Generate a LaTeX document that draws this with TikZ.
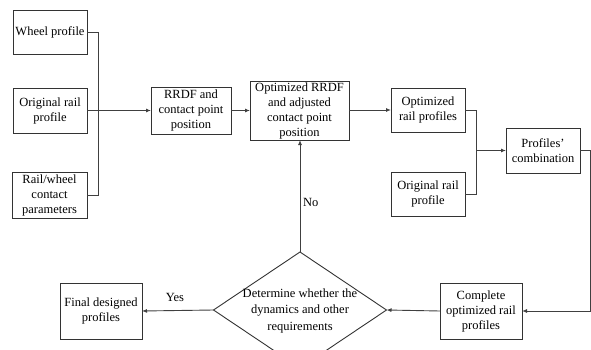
\documentclass[tikz,border=0pt]{standalone}
\usepackage{fontspec}
\setmainfont{Liberation Serif}
\usetikzlibrary{arrows.meta,shapes.geometric}
\begin{document}
\begin{tikzpicture}[x=1pt,y=-1pt,
  box/.style={draw=black!80, line width=0.9pt, fill=white, align=center, inner sep=0pt, outer sep=0pt,
    font=\fontsize{12.5}{15}\selectfont},
  lbl/.style={inner sep=0pt, font=\fontsize{12.5}{15}\selectfont},
  conn/.style={draw=black!75, line width=0.9pt},
  arr/.style={conn, -{Latex[length=5pt,width=4pt]}}]
\useasboundingbox (0,0) rectangle (591,350);
\clip (0,0) rectangle (591,350);
% left inputs
\node[box, minimum width=74pt, minimum height=44pt] (wheel) at (50,32) {Wheel profile};
\node[box, minimum width=74pt, minimum height=45pt] (orig1) at (50,110.5) {Original rail\\profile};
\node[box, minimum width=75pt, minimum height=46pt] (rw) at (49.5,195) {Rail/wheel\\contact\\parameters};
% middle row
\node[box, minimum width=80pt, minimum height=47pt] (rrdf) at (191,110.5) {RRDF and\\contact point\\position};
\node[box, minimum width=99pt, minimum height=59pt] (optrrdf) at (299.5,110.5) {Optimized RRDF\\and adjusted\\contact point\\position};
\node[box, minimum width=74pt, minimum height=44pt] (optrail) at (428,110) {Optimized\\rail profiles};
\node[box, minimum width=74pt, minimum height=44pt] (orig2) at (428,194) {Original rail\\profile};
\node[box, minimum width=74pt, minimum height=45pt] (comb) at (543,150.5) {Profiles'\\combination};
% bottom row
\node[box, minimum width=82pt, minimum height=56pt] (complete) at (481,311) {Complete\\optimized rail\\profiles};
\node[box, minimum width=82pt, minimum height=56pt] (final) at (101,311) {Final designed\\profiles};
\node[draw=black!80, line width=0.9pt, diamond, inner sep=0pt, outer sep=0pt,
  minimum width=173pt, minimum height=116pt] (dia) at (300,310) {};
\node[lbl, align=center, font=\fontsize{12.5}{16.5}\selectfont] (diatext) at (300,310.5) {Determine whether the\\dynamics and other\\requirements};
% labels
\node[lbl] (yes) at (175,297) {Yes};
\node[lbl, anchor=west] (no) at (303,202) {No};
% connectors
\coordinate (busL) at (98,110.5);
\coordinate (busR) at (476,150.5);
\draw[conn] (wheel.east) -| (busL);
\draw[conn] (rw.east) -| (busL);
\draw[arr] (orig1.east) -- (rrdf.west);
\draw[arr] (rrdf.east) -- (optrrdf.west);
\draw[arr] (optrrdf.east |- optrail.east) -- (optrail.west);
\draw[conn] (optrail.east) -| (busR);
\draw[conn] (orig2.east) -| (busR);
\draw[arr] (busR) -- (comb.west);
\coordinate (rc) at (590,150.5);
\draw[arr] (comb.east) -- (rc) |- (complete.east);
\draw[arr] (complete.west) -- (dia.east);
\draw[arr] (dia.west) -- (final.east);
\draw[arr] (dia.north) -- (dia.north |- optrrdf.south);
\end{tikzpicture}
\end{document}
